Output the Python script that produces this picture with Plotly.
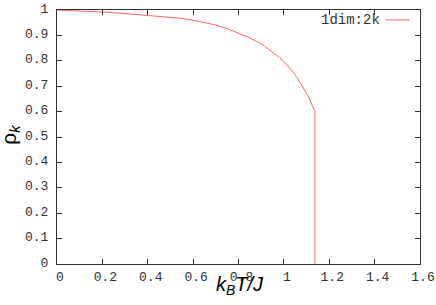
import plotly.graph_objects as go

# Data
temperature = [0.0, 0.1, 0.2, 0.3, 0.4, 0.5, 0.55, 0.6, 0.65, 0.7, 0.75, 0.8, 0.85, 0.9,
               0.95, 0.98, 1.0, 1.02, 1.04, 1.06, 1.08, 1.10, 1.11, 1.12, 1.13, 1.137, 1.137]
rho_k = [1.0, 0.997, 0.992, 0.986, 0.979, 0.972, 0.967, 0.96, 0.951, 0.941, 0.927, 0.91,
         0.89, 0.867, 0.835, 0.813, 0.797, 0.778, 0.756, 0.731, 0.703, 0.672, 0.655,
         0.636, 0.615, 0.60, 0.0]
series_name = "1dim:2k"

x_ticks = [0, 0.2, 0.4, 0.6, 0.8, 1.0, 1.2, 1.4, 1.6]
x_tick_labels = ["0", "0.2", "0.4", "0.6", "0.8", "1", "1.2", "1.4", "1.6"]
y_ticks = [0, 0.1, 0.2, 0.3, 0.4, 0.5, 0.6, 0.7, 0.8, 0.9, 1.0]
y_tick_labels = ["0", "0.1", "0.2", "0.3", "0.4", "0.5", "0.6", "0.7", "0.8", "0.9", "1"]

mono = "Liberation Mono, Courier New, monospace"
sans = "Liberation Sans, Arial, sans-serif"
line_color = "rgba(255,0,0,0.6)"

fig = go.Figure()
fig.add_trace(go.Scatter(x=temperature, y=rho_k, mode="lines",
                         line=dict(color=line_color, width=1), name=series_name,
                         showlegend=False))

axis_common = dict(showgrid=False, zeroline=False, showline=True, linecolor="#333333",
                   linewidth=1, mirror="ticks", ticks="inside", ticklen=5, automargin=False,
                   tickcolor="#333333", tickfont=dict(family=mono, size=13, color="#333333"))

fig.update_xaxes(range=[0, 1.6], tickvals=x_ticks, ticktext=x_tick_labels,
                 ticklabelshift=3, **axis_common)
fig.update_yaxes(range=[0, 1], tickvals=y_ticks, ticktext=y_tick_labels,
                 ticklabelstandoff=5, ticklabelshift=-2, **axis_common)

# axis titles
fig.add_annotation(xref="paper", yref="paper", x=0.504, y=-0.083, xanchor="center",
                   yanchor="middle", text="<i>k<sub>B</sub>T/J</i>", showarrow=False,
                   font=dict(family=sans, size=20, color="black"))
fig.add_annotation(xref="paper", yref="paper", x=-0.13, y=0.508, xanchor="center",
                   yanchor="middle", text="ρ<i><sub>k</sub></i>", showarrow=False,
                   textangle=-90, font=dict(family=sans, size=21, color="black"))

# legend: text with line sample to its right (gnuplot style)
fig.add_annotation(xref="paper", yref="paper", x=0.895, y=0.961, xanchor="right",
                   yanchor="middle", text=series_name, showarrow=False,
                   font=dict(family=mono, size=14, color="#333333"))
fig.add_shape(type="line", xref="paper", yref="paper", x0=0.906, x1=0.972, y0=0.961, y1=0.961,
              line=dict(color=line_color, width=1))

fig.update_layout(width=436, height=305, margin=dict(l=57, r=16, t=10, b=41),
                  plot_bgcolor="white", paper_bgcolor="white", showlegend=False)

fig.write_html("out.html", config={"displayModeBar": False},
               post_script="document.body.style.margin='0';")
